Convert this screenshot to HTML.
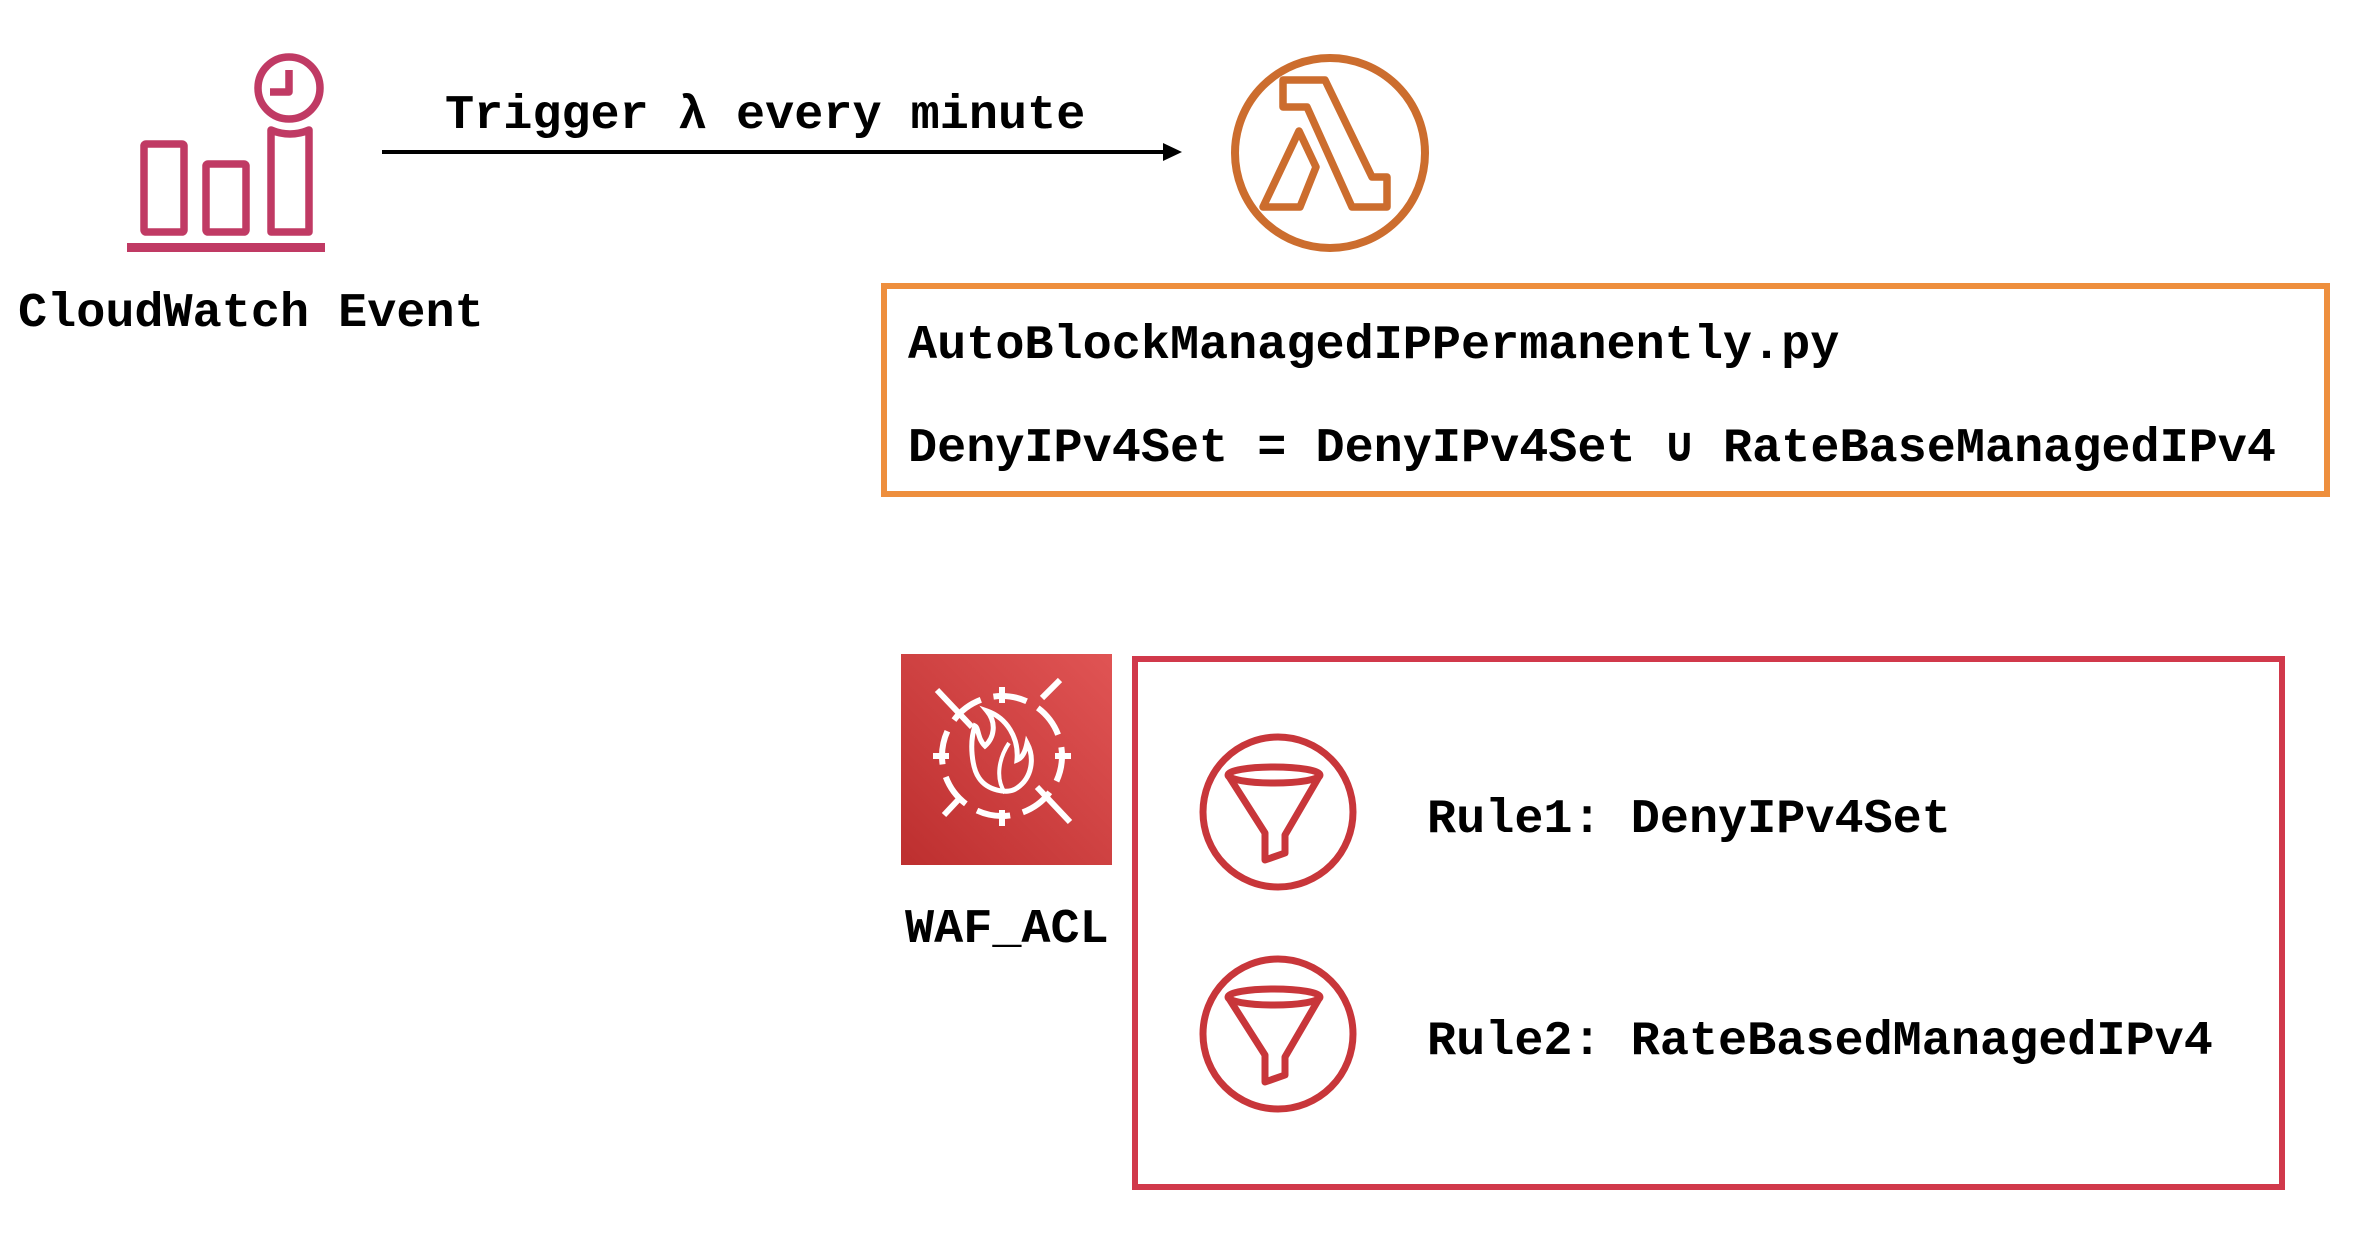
<!DOCTYPE html>
<html><head><meta charset="utf-8"><style>
html,body{margin:0;padding:0;background:#fff;}
body{width:2354px;height:1254px;position:relative;overflow:hidden;}
svg{position:absolute;left:0;top:0;}
text{font-family:"Liberation Mono",monospace;font-weight:bold;fill:#000;font-size:48.5px;}
</style></head><body>
<svg width="2354" height="1254" viewBox="0 0 2354 1254">
<defs>
<linearGradient id="wg" x1="0" y1="1" x2="1" y2="0">
<stop offset="0" stop-color="#BD2F2F"/><stop offset="1" stop-color="#E05454"/>
</linearGradient>
</defs>
<!-- CloudWatch icon -->
<g fill="none" stroke="#C03A64" stroke-width="7.5" stroke-linejoin="round">
<rect x="144" y="144" width="40" height="88" rx="2"/>
<rect x="206" y="164" width="40" height="68" rx="2"/>
<path d="M271,130 Q290,138 309,130 L309,232 L271,232 Z"/>
<circle cx="289" cy="88" r="31"/>
<path d="M289,70 L289,92 L270,92"/>
</g>
<rect x="127" y="243" width="198" height="9" fill="#C03A64"/>
<text x="18" y="326">CloudWatch Event</text>

<!-- arrow -->
<line x1="382" y1="152" x2="1168" y2="152" stroke="#000" stroke-width="4"/>
<polygon points="1182,152 1163,143 1163,161" fill="#000"/>
<text x="445" y="128">Trigger λ every minute</text>

<!-- Lambda -->
<g transform="translate(-5,0)">
<circle cx="1335" cy="153" r="95" fill="none" stroke="#CC6D2E" stroke-width="8"/>
<g fill="none" stroke="#CC6D2E" stroke-width="7.5" stroke-linejoin="round">
<path d="M1288,80 L1330,80 L1377,177 L1392,177 L1392,207 L1357,207 L1312,107 L1288,107 Z"/>
<path d="M1304,131 L1321,167 L1305,207 L1268,207 Z"/>
</g>
</g>

<!-- Orange box -->
<rect x="884" y="286" width="1443" height="208" fill="none" stroke="#EE8F3D" stroke-width="6"/>
<text x="908" y="358">AutoBlockManagedIPPermanently.py</text>
<text x="908" y="461">DenyIPv4Set = DenyIPv4Set ∪ RateBaseManagedIPv4</text>

<!-- WAF -->
<g transform="translate(-3,-2)">
<rect x="904" y="656" width="211" height="211" fill="url(#wg)"/>
<g fill="none" stroke="#fff" stroke-width="6">
<circle cx="1005" cy="758" r="60" stroke-dasharray="34 13" stroke-dashoffset="8"/>
<line x1="940" y1="692" x2="975" y2="729"/>
<line x1="1040" y1="789" x2="1073" y2="824"/>
<line x1="1045" y1="700" x2="1063" y2="682"/>
<line x1="947" y1="817" x2="962" y2="801"/>
<line x1="1005" y1="689" x2="1005" y2="705"/>
<line x1="1005" y1="812" x2="1005" y2="828"/>
<line x1="936" y1="758" x2="952" y2="758"/>
<line x1="1058" y1="758" x2="1074" y2="758"/>
<path stroke-width="5" d="M990,713 C1000,725 997,740 988,748 C980,740 982,730 978,728 C972,745 975,770 982,780 C990,792 1010,797 1020,790 C1035,780 1038,760 1030,745 C1028,755 1025,760 1020,762 C1022,740 1010,720 990,713 Z"/>
<path stroke-width="4" d="M1008,795 C998,780 1002,760 1012,745"/>
</g>
</g>
<text x="905" y="942">WAF_ACL</text>

<!-- Red box -->
<rect x="1135" y="659" width="1147" height="528" fill="none" stroke="#D1394B" stroke-width="6"/>
<g transform="translate(-5,-2)">
<g fill="none" stroke="#C8363A" stroke-width="7" stroke-linejoin="round">
<circle cx="1283" cy="814" r="75"/>
<circle cx="1283" cy="1036" r="75"/>
<ellipse cx="1279" cy="777" rx="46" ry="8"/>
<path d="M1233,777 L1270,835 L1270,862 L1290,855 L1290,837 L1325,777"/>
<g transform="translate(0,222)">
<ellipse cx="1279" cy="777" rx="46" ry="8"/>
<path d="M1233,777 L1270,835 L1270,862 L1290,855 L1290,837 L1325,777"/>
</g>
</g>
</g>
<text x="1427" y="832">Rule1: DenyIPv4Set</text>
<text x="1427" y="1054">Rule2: RateBasedManagedIPv4</text>
</svg>
</body></html>
